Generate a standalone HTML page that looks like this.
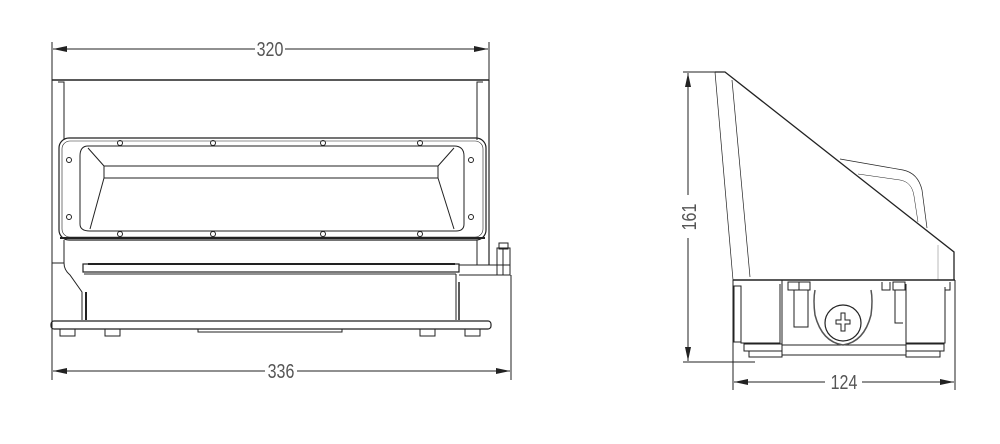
<!DOCTYPE html>
<html><head><meta charset="utf-8"><style>
html,body{margin:0;padding:0;background:#fff;}
svg{display:block}
text{font-family:"Liberation Sans",sans-serif;fill:#555;}
</style></head><body>
<svg width="1000" height="444" viewBox="0 0 1000 444" xmlns="http://www.w3.org/2000/svg">
<defs>
<marker id="a" markerWidth="14" markerHeight="6" refX="14" refY="3" orient="auto-start-reverse" markerUnits="userSpaceOnUse"><path d="M0,0 L14,3 L0,6 z" fill="#222"/></marker>
</defs>
<g stroke="#222" fill="none" stroke-width="1">
<line x1="52" y1="42" x2="52" y2="380"/>
<line x1="489" y1="42" x2="489" y2="82"/>
<line x1="511" y1="275" x2="511" y2="380"/>
<line x1="53" y1="49" x2="255" y2="49" marker-start="url(#a)"/>
<line x1="285" y1="49" x2="488" y2="49" marker-end="url(#a)"/>
<line x1="53" y1="371" x2="265" y2="371" marker-start="url(#a)"/>
<line x1="297" y1="371" x2="510" y2="371" marker-end="url(#a)"/>
<line x1="52" y1="80" x2="489" y2="80" stroke-width="1.5"/>
<line x1="489" y1="80" x2="489" y2="265" stroke-width="1.2"/>
<path d="M52,80 L52,263"/>
<path d="M58,82 L64,82 L64,140"/>
<path d="M483,82 L477,82 L477,140"/>
<rect x="59" y="138" width="427" height="102" rx="10" stroke-width="1.2"/>
<rect x="62" y="141" width="421" height="96" rx="8" stroke-width="0.6"/>
<line x1="60" y1="238" x2="485" y2="238" stroke-width="2"/>
<path d="M88,146 L454,146 Q464,146 464,156 L464,224 Q464,231 456,231 L90,231 Q80,231 80,224 L80,156 Q80,146 88,146 Z"/>
<rect x="104" y="166" width="334" height="12"/>
<path d="M88,148 L104,166 M454,148 L438,166 M104,178 L90,229 M438,178 L454,229"/>
<g stroke-width="1">
<circle cx="120" cy="143" r="2.5"/><circle cx="213" cy="143" r="2.5"/><circle cx="323" cy="143" r="2.5"/><circle cx="420" cy="143" r="2.5"/>
<circle cx="120" cy="234" r="2.5"/><circle cx="213" cy="234" r="2.5"/><circle cx="323" cy="234" r="2.5"/><circle cx="420" cy="234" r="2.5"/>
<circle cx="69" cy="160" r="2.5"/><circle cx="69" cy="217" r="2.5"/><circle cx="471" cy="160" r="2.5"/><circle cx="471" cy="217" r="2.5"/>
</g>
<path d="M64,240 L64,263 Q64,270 70,275 L82,292 L82,320"/>
<path d="M52,263 L64,263"/>
<line x1="86" y1="292" x2="86" y2="320" stroke-width="2"/>
<rect x="83" y="264" width="376" height="8" stroke-width="1.2"/>
<line x1="88" y1="264" x2="455" y2="264" stroke-width="2"/>
<line x1="84" y1="274" x2="456" y2="274"/>
<line x1="456" y1="274" x2="456" y2="320"/>
<line x1="459" y1="282" x2="459" y2="320" stroke-width="1.5"/>
<path d="M459,265 L510,265 L510,275 L459,275"/>
<line x1="477" y1="240" x2="477" y2="265"/>
<rect x="497" y="248" width="13" height="27"/>
<rect x="499" y="243" width="9" height="6"/>
<line x1="503" y1="249" x2="503" y2="275"/>
<rect x="51" y="321" width="440" height="8" rx="3" stroke-width="1.2"/>
<path d="M60,329 v7 h15 v-7 M105,329 v7 h15 v-7 M420,329 v7 h15 v-7 M465,329 v7 h15 v-7"/>
<path d="M198,329 v3 h144 v-3"/>
<line x1="683" y1="72" x2="715" y2="72"/>
<line x1="683" y1="362" x2="755" y2="362"/>
<line x1="688" y1="73" x2="688" y2="195" marker-start="url(#a)"/>
<line x1="688" y1="238" x2="688" y2="361" marker-end="url(#a)"/>
<line x1="733" y1="285" x2="733" y2="390"/>
<line x1="955" y1="280" x2="955" y2="390"/>
<line x1="734" y1="382" x2="825" y2="382" marker-start="url(#a)"/>
<line x1="862" y1="382" x2="954" y2="382" marker-end="url(#a)"/>
<path d="M715,72 L725,72 L954,252 L954,280" stroke-width="1.3"/>
<path d="M715,72 L733,280" stroke-width="0.7"/>
<path d="M732,80 L750,277" stroke-width="0.7"/>
<path d="M840,159 L903,170 Q918,173 922,190 L927,228" stroke-width="0.7"/>
<path d="M858,174 L900,180 Q912,182 914,196 L918,222" stroke-width="0.5"/>
<line x1="938" y1="245" x2="938" y2="280" stroke-width="0.5" stroke="#777"/>
<line x1="733" y1="280" x2="955" y2="280" stroke-width="1.5"/>
<path d="M733,280 L733,357 M955,280 L955,340"/>
<rect x="734" y="286" width="7" height="56"/>
<path d="M741,287 L741,343 L780,343 L780,284"/>
<path d="M782,280 L782,345 L906,345 L906,284"/>
<path d="M945,287 L945,343 L906,343"/>
<path d="M945,290 L950,290 L950,282"/>
<rect x="788" y="282" width="11" height="8"/><rect x="799" y="282" width="11" height="8"/>
<path d="M794,290 v37 h14 v-37"/>
<path d="M890,282 v8 h-8 v-8"/><rect x="893" y="282" width="12" height="8"/>
<path d="M895,290 v33 h8"/>
<path d="M815,290 Q813,300 815,315 Q822,342 843,345 Q864,342 871,315 Q873,300 871,290" stroke-width="1.5" stroke="#555"/>
<circle cx="843" cy="323" r="18" stroke-width="1.2"/>
<path d="M836,320 h5 v-7 h4 v7 h5 v4 h-5 v7 h-4 v-7 h-5 z" stroke-width="1"/>
<rect x="744" y="344" width="38" height="7"/><rect x="906" y="344" width="38" height="7"/>
<rect x="749" y="351" width="33" height="6"/><rect x="906" y="351" width="34" height="6"/>
<line x1="782" y1="355" x2="906" y2="355"/>
</g>
<g font-size="20">
<text transform="translate(270,56) scale(0.8,1)" text-anchor="middle">320</text>
<text transform="translate(281,378) scale(0.8,1)" text-anchor="middle">336</text>
<text transform="translate(844,389) scale(0.8,1)" text-anchor="middle">124</text>
<text text-anchor="middle" transform="translate(696,217) rotate(-90) scale(0.8,1)">161</text>
</g>
</svg>
</body></html>
